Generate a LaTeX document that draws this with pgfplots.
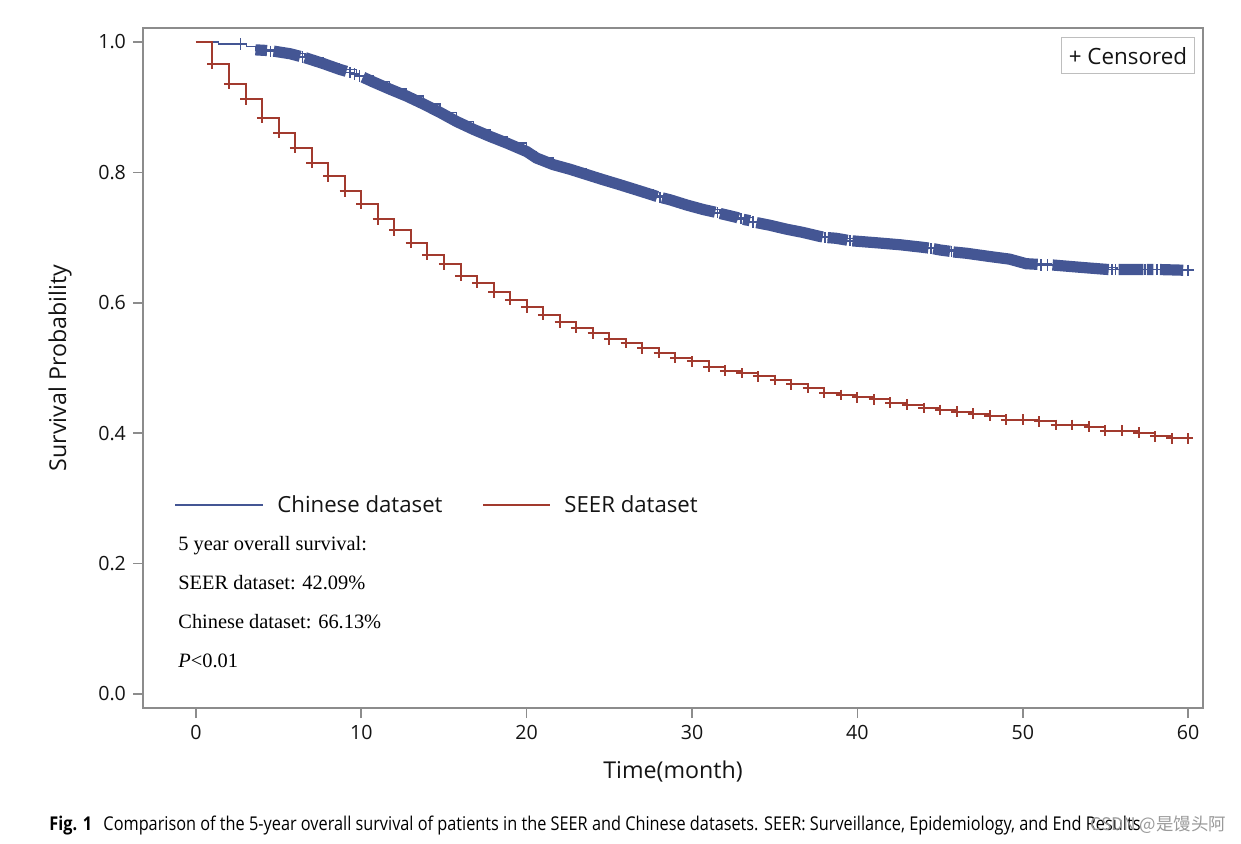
\documentclass[border=0pt]{standalone}
\usepackage{fontspec}
\setmainfont{Open Sans}
\newfontfamily\serif{Liberation Serif}
\newfontfamily\cjk{Noto Sans CJK SC}
\usepackage{graphicx}
\usepackage{pgfplots}
\usepackage{pgfplotstable}
\pgfplotsset{compat=1.18}

\definecolor{cblue}{HTML}{445694}
\definecolor{sred}{HTML}{A23A2E}
\definecolor{axgray}{RGB}{140,140,140}
\definecolor{boxgray}{RGB}{190,190,190}
\definecolor{txt}{RGB}{20,20,20}

% SEER: Kaplan-Meier steps (month, survival)
\pgfplotstableread{
t s
0 1.000
1 0.967
2 0.936
3 0.912
4 0.884
5 0.860
6 0.838
7 0.815
8 0.794
9 0.771
10 0.752
11 0.728
12 0.711
13 0.692
14 0.673
15 0.659
16 0.641
17 0.630
18 0.616
19 0.605
20 0.593
21 0.582
22 0.570
23 0.561
24 0.553
25 0.544
26 0.538
27 0.530
28 0.523
29 0.516
30 0.510
31 0.502
32 0.496
33 0.492
34 0.487
35 0.482
36 0.475
37 0.469
38 0.462
39 0.459
40 0.455
41 0.452
42 0.447
43 0.444
44 0.439
45 0.436
46 0.433
47 0.430
48 0.427
49 0.421
50 0.421
51 0.418
52 0.413
53 0.413
54 0.410
55 0.404
56 0.404
57 0.401
58 0.395
59 0.392
60 0.392
60.3 0.392
}\seer

% Chinese dataset: survival curve
\pgfplotstableread{
t s
0 1.000
1.35 0.997
3.07 0.993
3.6 0.988
4.7 0.986
5.7 0.982
6.6 0.976
7.7 0.967
8.7 0.958
9.7 0.949
10.7 0.939
11.7 0.928
12.75 0.917
13.75 0.905
14.76 0.892
15.77 0.878
16.78 0.866
17.8 0.855
18.8 0.845
20.0 0.832
20.6 0.822
21.6 0.812
22.6 0.805
23.6 0.797
24.6 0.789
25.65 0.781
26.66 0.773
27.66 0.765
28.67 0.758
29.68 0.750
30.69 0.743
31.7 0.737
32.7 0.731
33.7 0.724
34.7 0.719
35.7 0.713
36.7 0.708
37.7 0.702
38.7 0.699
39.9 0.694
41.2 0.692
42.6 0.689
44.0 0.685
45.0 0.681
46.6 0.676
48.0 0.671
49.2 0.667
50.2 0.660
51.7 0.658
53.7 0.654
55.7 0.651
57.7 0.651
60.3 0.650
}\chn

% dense censoring band of the Chinese curve (gaps where censoring is sparse)
\pgfplotstableread{
t s
3.6 0.988
4.3 0.987
nan nan
4.7 0.986
5.7 0.982
6.3 0.978
nan nan
6.6 0.976
7.7 0.967
8.7 0.958
9.1 0.955
nan nan
10.1 0.946
10.7 0.939
11.7 0.928
12.75 0.917
13.75 0.905
14.76 0.892
15.77 0.878
16.78 0.866
17.8 0.855
18.8 0.845
20.0 0.832
20.6 0.822
21.6 0.812
22.6 0.805
23.6 0.797
24.6 0.789
25.65 0.781
26.66 0.773
27.66 0.765
27.9 0.763
nan nan
28.2 0.761
28.67 0.758
29.68 0.750
30.69 0.743
31.4 0.739
nan nan
31.7 0.737
32.7 0.731
32.8 0.730
nan nan
33.1 0.728
33.5 0.726
nan nan
33.9 0.723
34.7 0.719
35.7 0.713
36.7 0.708
37.7 0.702
37.9 0.701
nan nan
38.2 0.700
38.7 0.699
39.4 0.696
nan nan
39.7 0.695
41.2 0.692
42.6 0.689
44.0 0.685
44.3 0.684
nan nan
44.6 0.683
45.0 0.681
45.6 0.679
nan nan
45.8 0.678
46.6 0.676
48.0 0.671
49.2 0.667
50.2 0.660
50.9 0.659
nan nan
51.8 0.658
53.7 0.654
55.2 0.651
nan nan
55.8 0.651
57.3 0.651
nan nan
57.5 0.651
57.9 0.651
nan nan
58.3 0.651
59.7 0.650
}\chnband

% isolated censored marks of the Chinese curve
\pgfplotstableread{
t s
2.7 0.997
4.5 0.986
6.45 0.977
9.3 0.953
9.6 0.951
9.9 0.948
28.05 0.762
31.55 0.738
32.95 0.729
33.7 0.724
38.05 0.700
39.55 0.695
44.45 0.683
45.7 0.679
51.1 0.658
51.5 0.658
55.4 0.651
55.6 0.651
57.4 0.651
58.1 0.651
60.0 0.650
}\chnmarks

\begin{document}
\begin{tikzpicture}
\useasboundingbox (-71.5pt,-67.5pt) rectangle (549pt,354pt);
\begin{axis}[
    width=530pt, height=340pt, scale only axis,
    xmin=-3.2, xmax=60.9, ymin=-0.0215, ymax=1.0215,
    xtick={0,10,...,60}, ytick={0,0.2,0.4,0.6,0.8,1.0},
    yticklabel style={/pgf/number format/.cd, fixed, fixed zerofill, precision=1},
    /pgf/number format/assume math mode=true,
    tick align=outside, xtick pos=bottom, ytick pos=left,
    major tick length=5pt,
    axis line style={axgray, line width=0.8pt},
    tick style={axgray, line width=0.8pt},
    ticklabel style={font=\fontsize{9.8}{10}\selectfont, text=txt},
    xlabel={Time(month)}, ylabel={Survival Probability},
    label style={font=\fontsize{11.6}{12}\selectfont, text=txt},
    xlabel style={at={(axis description cs:0.5,-0.0941)}, anchor=center},
    ylabel style={at={(axis description cs:-0.0783,0.5)}, anchor=center},
    clip=false,
]
\addplot[cblue, line width=0.7pt, const plot, mark=none] table[x=t, y=s] {\chn};
\addplot[cblue, line width=5.6pt, unbounded coords=jump, mark=none] table[x=t, y=s] {\chnband};
\addplot[cblue, only marks, mark=+, mark size=2.8pt, line width=0.8pt] table[x=t, y=s] {\chnmarks};
\addplot[sred, line width=1pt, const plot, mark=none] table[x=t, y=s] {\seer};
\addplot[sred, only marks, mark=+, mark size=2.6pt, line width=1pt, skip coords between index={0}{1}, skip coords between index={61}{62}] table[x=t, y=s] {\seer};
\end{axis}

% legend
\draw[cblue, line width=0.7pt] (16pt,101.5pt) -- (60pt,101.5pt);
\node[anchor=base west, inner sep=0, text=txt, font=\fontsize{11.1}{12}\selectfont] at (67pt,98pt) {Chinese dataset};
\draw[sred, line width=0.7pt] (170pt,101.5pt) -- (203.5pt,101.5pt);
\node[anchor=base west, inner sep=0, text=txt, font=\fontsize{11.1}{12}\selectfont] at (210.5pt,98pt) {SEER dataset};

% inset text
\begin{scope}[every node/.style={anchor=base west, inner sep=0, text=black, font=\serif\fontsize{10.2}{12}\selectfont}]
\node at (17.5pt,79pt) {5 year overall survival:};
\node at (17.5pt,59.5pt) {SEER dataset: 42.09\%};
\node at (17.5pt,40pt) {Chinese dataset: 66.13\%};
\node at (17.5pt,20.5pt) {\textit{P}<0.01};
\end{scope}

% censored key
\node[draw=boxgray, line width=0.6pt, minimum width=66.5pt, minimum height=18pt, anchor=north east, inner sep=0, text=txt, font=\fontsize{11.2}{12}\selectfont] at (526pt,335.5pt) {+ Censored};

% caption
\node[anchor=base west, inner sep=0, text=black] at (-47pt,-61pt) {\resizebox{545.5pt}{\height}{\fontsize{9.5}{11}\selectfont\textbf{Fig. 1}\hspace{0.7em}Comparison of the 5-year overall survival of patients in the SEER and Chinese datasets. SEER: Surveillance, Epidemiology, and End Results}};
\node[anchor=west, inner sep=0, text=black!40, font=\cjk\fontsize{8.7}{10}\selectfont] at (473.5pt,-58.5pt) {CSDN @是馒头阿};
\end{tikzpicture}
\end{document}
